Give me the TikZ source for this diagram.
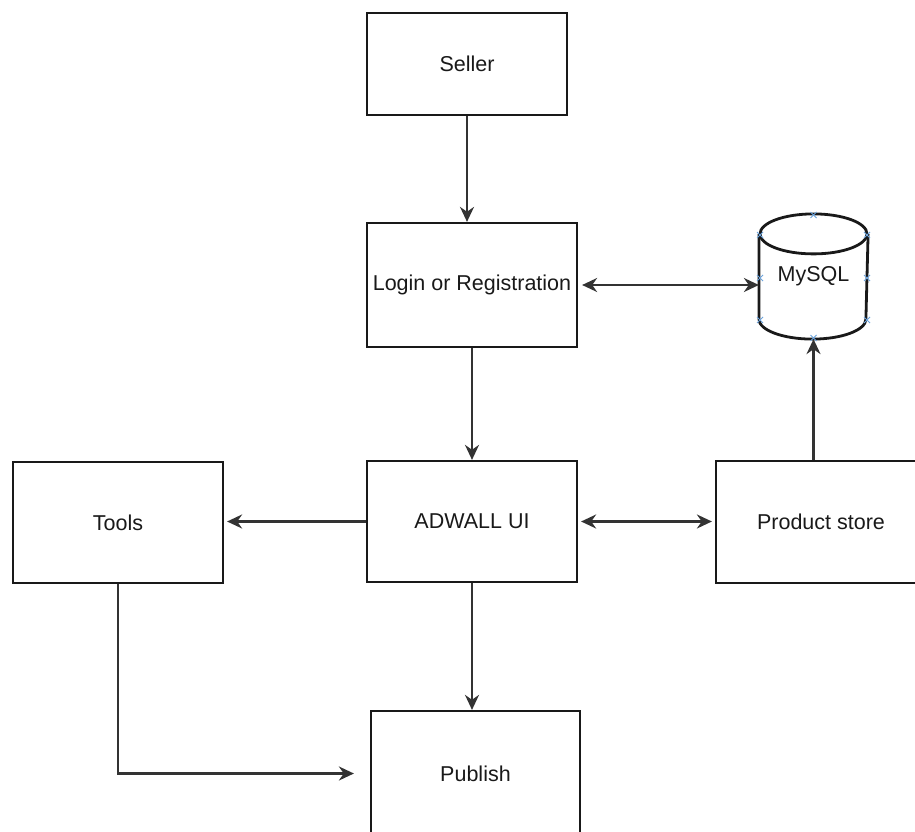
\documentclass[tikz,border=0pt]{standalone}
\usepackage{fontspec}
\setmainfont{Liberation Sans}
\usetikzlibrary{arrows.meta}
\tikzset{
  box/.style={draw=black!90, line width=2.2pt, rectangle, inner sep=0pt,
    font=\fontsize{21.5}{25}\selectfont, text=black!90},
  flow/.style={draw=black!80, line width=2.2pt, -{Stealth[length=15pt,width=14pt]}},
  both/.style={{Stealth[length=15pt,width=14pt]}-{Stealth[length=15pt,width=14pt]}},
  pinmark/.style={draw=cyan!60!blue!60, line width=0.8pt}
}
\begin{document}
\begin{tikzpicture}[x=1pt,y=-1pt]
      \useasboundingbox (0,0) rectangle (915,832);
      \draw
        (467,64) node[box, minimum width=200pt, minimum height=102pt] (seller){Seller}
        (472,285) node[box, minimum width=210pt, minimum height=124pt] (login){Login or Registration}
        (472,521.5) node[box, minimum width=210pt, minimum height=121pt] (adwall){ADWALL UI}
        (118,522.5) node[box, minimum width=210pt, minimum height=121pt] (tools){Tools}
        (821,522) node[box, minimum width=210pt, minimum height=122pt] (product){Product store}
        (475.5,773.5) node[box, minimum width=209pt, minimum height=125pt] (publish){Publish}
        (813.5,276.5) node[box, draw=none, minimum width=107pt, minimum height=123pt] (mysql){MySQL};
      % database cylinder
      \draw[line width=2.8pt, black!90]
        ([yshift=-20pt]mysql.north) ellipse [x radius=53.5, y radius=20];
      \draw[line width=2.8pt, black!90]
        ([yshift=-20pt]mysql.north west) -- ([yshift=20pt]mysql.south west)
        arc [start angle=180, end angle=0, x radius=53.5, y radius=20]
        -- ([yshift=-20pt]mysql.north east);
      \foreach \p in {(813.5,215),(760,235),(867,235),(760,278),(867,278),(760,320),(867,320),(813.5,338)}
        \draw[pinmark] \p ++(-3,-3) -- ++(6,6) \p ++(-3,3) -- ++(6,-6);
      \begin{scope}[flow]
        \draw (seller) to (seller |- login.north);
        \draw (login) to (adwall);
        \draw (adwall.south) to (adwall.south |- publish.north);
        \draw[shorten >=3pt] (adwall.west) to (adwall.west -| tools.east);
        \draw[both, shorten <=3pt, shorten >=3pt] (adwall.east) to (adwall.east -| product.west);
        \draw[both, shorten <=4pt] (login.east) to (login.east -| mysql.west);
        \draw (mysql.south |- product.north) to (mysql.south);
        \draw[shorten >=16pt] (tools.south) |- (publish.west);
      \end{scope}
    \end{tikzpicture}
\end{document}
